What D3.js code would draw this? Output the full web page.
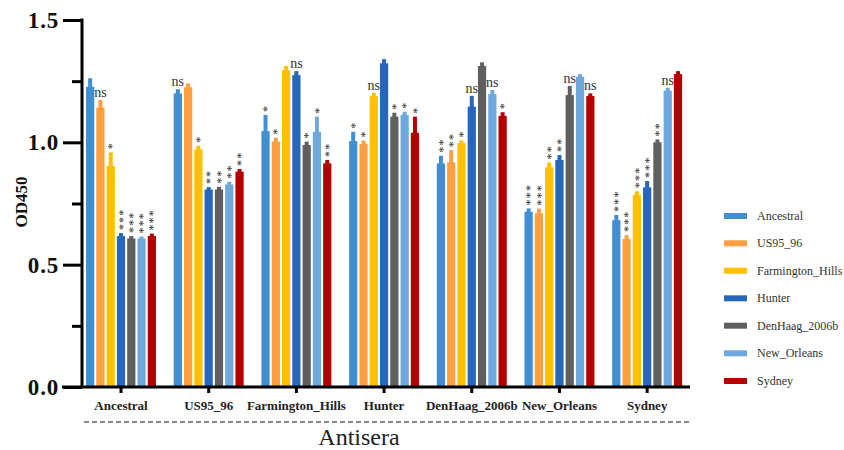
<!DOCTYPE html>
<html>
<head>
<meta charset="utf-8">
<script src="https://cdn.jsdelivr.net/npm/d3@7"></script>
<style>
  html, body { margin: 0; padding: 0; background: #fff; }
  svg { display: block; }
  svg text { font-family: "Liberation Serif", "Times New Roman", "DejaVu Serif", serif; }
</style>
</head>
<body>
<svg id="chart" width="844" height="450"></svg>
<script>
// ---------- data ----------
const groups = ["Ancestral", "US95_96", "Farmington_Hills", "Hunter", "DenHaag_2006b", "New_Orleans", "Sydney"];
const series = ["Ancestral", "US95_96", "Farmington_Hills", "Hunter", "DenHaag_2006b", "New_Orleans", "Sydney"];
const colors = ["#3F8FD2", "#FF9F40", "#FFC000", "#2766BE", "#5F5F5F", "#6FA8DC", "#B50000"];

// mean OD450 per series, across antisera groups (in group order)
const valAncestral   = [1.227, 1.200, 1.046, 1.005, 0.914, 0.716, 0.682];
const valUS95        = [1.142, 1.225, 1.003, 0.993, 0.918, 0.710, 0.605];
const valFarmington  = [0.904, 0.971, 1.295, 1.189, 0.997, 0.898, 0.785];
const valHunter      = [0.617, 0.807, 1.275, 1.323, 1.146, 0.928, 0.816];
const valDenHaag     = [0.607, 0.807, 0.989, 1.105, 1.312, 1.193, 1.000];
const valNewOrleans  = [0.607, 0.828, 1.043, 1.112, 1.197, 1.268, 1.211];
const valSydney      = [0.617, 0.880, 0.914, 1.039, 1.108, 1.189, 1.279];

// error (upper extent)
const errAncestral   = [0.035, 0.017, 0.066, 0.038, 0.031, 0.014, 0.021];
const errUS95        = [0.031, 0.016, 0.016, 0.014, 0.050, 0.019, 0.016];
const errFarmington  = [0.055, 0.015, 0.017, 0.014, 0.011, 0.020, 0.015];
const errHunter      = [0.012, 0.010, 0.016, 0.017, 0.044, 0.020, 0.026];
const errDenHaag     = [0.010, 0.011, 0.014, 0.016, 0.015, 0.037, 0.012];
const errNewOrleans  = [0.008, 0.011, 0.062, 0.013, 0.017, 0.011, 0.012];
const errSydney      = [0.010, 0.011, 0.014, 0.066, 0.015, 0.011, 0.012];

// significance labels
const sigAncestral   = ["", "ns", "*", "*", "**", "***", "***"];
const sigUS95        = ["ns", "", "*", "*", "**", "***", "***"];
const sigFarmington  = ["*", "*", "", "ns", "*", "**", "***"];
const sigHunter      = ["***", "**", "ns", "", "ns", "**", "***"];
const sigDenHaag     = ["***", "**", "*", "*", "", "ns", "**"];
const sigNewOrleans  = ["***", "**", "*", "*", "ns", "", "ns"];
const sigSydney      = ["***", "**", "**", "*", "*", "ns", ""];

const yTicks = [0, 0.25, 0.5, 0.75, 1.0, 1.25, 1.5];
const yLabelTicks = [0, 0.5, 1.0, 1.5];

const values = [valAncestral, valUS95, valFarmington, valHunter, valDenHaag, valNewOrleans, valSydney];
const errors = [errAncestral, errUS95, errFarmington, errHunter, errDenHaag, errNewOrleans, errSydney];
const sigs   = [sigAncestral, sigUS95, sigFarmington, sigHunter, sigDenHaag, sigNewOrleans, sigSydney];

const records = [];
groups.forEach((g, gi) => {
  series.forEach((s, si) => {
    records.push({ group: g, series: s, si, value: values[si][gi], err: errors[si][gi], sig: sigs[si][gi] });
  });
});

// ---------- layout ----------
const svg = d3.select("#chart");
const axisX = 82, axisY = 387;

const y = d3.scaleLinear().domain([0, 1.5]).range([387, 20]);
const x0 = d3.scaleBand().domain(groups).range([77.15, 691]).paddingInner(0).paddingOuter(0);
const x1 = d3.scaleBand().domain(series).range([-36, 36]).paddingInner(0.2).paddingOuter(0.1);
const color = d3.scaleOrdinal().domain(series).range(colors);

// bars
const gBars = svg.append("g");
const cx = d => x0(d.group) + x0.bandwidth() / 2 + x1(d.series) + x1.bandwidth() / 2;

gBars.selectAll("rect.bar").data(records).join("rect")
  .attr("class", "bar")
  .attr("x", d => cx(d) - x1.bandwidth() / 2)
  .attr("width", x1.bandwidth())
  .attr("y", d => y(d.value))
  .attr("height", d => y(0) - y(d.value))
  .attr("fill", d => color(d.series));

gBars.selectAll("rect.err").data(records).join("rect")
  .attr("class", "err")
  .attr("x", d => cx(d) - 2)
  .attr("width", 4)
  .attr("y", d => y(d.value + d.err))
  .attr("height", d => y(d.value) - y(d.value + d.err) + 0.5)
  .attr("fill", d => color(d.series));

// significance annotations
const gSig = svg.append("g").attr("fill", "#333");
records.filter(d => d.sig === "ns").forEach(d => {
  gSig.append("text")
    .attr("x", cx(d))
    .attr("y", y(d.value + d.err) - 3)
    .attr("text-anchor", "middle")
    .attr("font-size", 14)
    .text("ns");
});
const starFs = 12;
records.filter(d => d.sig && d.sig !== "ns").forEach(d => {
  const bx = cx(d) + 0.47 * starFs;
  const by = y(d.value + d.err) - 3;
  gSig.append("text")
    .attr("transform", `translate(${bx},${by}) rotate(-90)`)
    .attr("text-anchor", "start")
    .attr("font-size", starFs)
    .attr("letter-spacing", 1.2)
    .text(d.sig);
});

// y axis
const yAxis = d3.axisLeft(y).tickValues(yTicks)
  .tickFormat(d => yLabelTicks.includes(d) ? d3.format(".1f")(d) : "")
  .tickSizeOuter(0).tickPadding(3);
const gy = svg.append("g").attr("transform", `translate(${axisX},0)`).call(yAxis);
gy.attr("font-family", null);
gy.select(".domain").attr("stroke", "#000").attr("stroke-width", 3).attr("d", `M0,${y(1.5)-1.5}V${axisY}`);
gy.selectAll(".tick line")
  .attr("stroke", "#000").attr("stroke-width", 3)
  .attr("x2", d => yLabelTicks.includes(d) ? -19 : -10);
gy.selectAll(".tick text")
  .attr("x", -23)
  .attr("font-weight", "bold").attr("font-size", 23)
  .attr("letter-spacing", 0.8)
  .attr("fill", "#111");

// x axis
const xAxis = d3.axisBottom(x0).tickSize(6).tickPadding(8).tickSizeOuter(0);
const gx = svg.append("g").attr("transform", `translate(0,${axisY})`).call(xAxis);
gx.attr("font-family", null);
gx.select(".domain").remove();
gx.selectAll(".tick line").attr("stroke", "#000").attr("stroke-width", 3);
gx.selectAll(".tick text")
  .attr("font-weight", "bold").attr("font-size", 13)
  .attr("fill", "#222");
svg.append("line")
  .attr("x1", 62).attr("x2", 690).attr("y1", axisY).attr("y2", axisY)
  .attr("stroke", "#000").attr("stroke-width", 3);

// dashed line and axis titles
svg.append("line")
  .attr("x1", 84).attr("x2", 690).attr("y1", 422).attr("y2", 422)
  .attr("stroke", "#8a8a8a").attr("stroke-width", 2).attr("stroke-dasharray", "5,3");

svg.append("text")
  .attr("x", 359).attr("y", 445)
  .attr("text-anchor", "middle")
  .attr("font-size", 24).attr("fill", "#222")
  .text("Antisera");

svg.append("text")
  .attr("transform", "translate(27,202) rotate(-90)")
  .attr("text-anchor", "middle")
  .attr("font-weight", "bold").attr("font-size", 17).attr("fill", "#111")
  .text("OD450");

// legend
const legendY = [216, 243.3, 270.7, 298.3, 325.7, 353.3, 381];
const gLeg = svg.append("g");
series.forEach((s, i) => {
  gLeg.append("rect")
    .attr("x", 724).attr("y", legendY[i] - 3).attr("width", 23).attr("height", 6)
    .attr("fill", color(s));
  gLeg.append("text")
    .attr("x", 757).attr("y", legendY[i] + 4)
    .attr("font-size", 12).attr("fill", "#333")
    .text(s);
});
</script>
</body>
</html>
